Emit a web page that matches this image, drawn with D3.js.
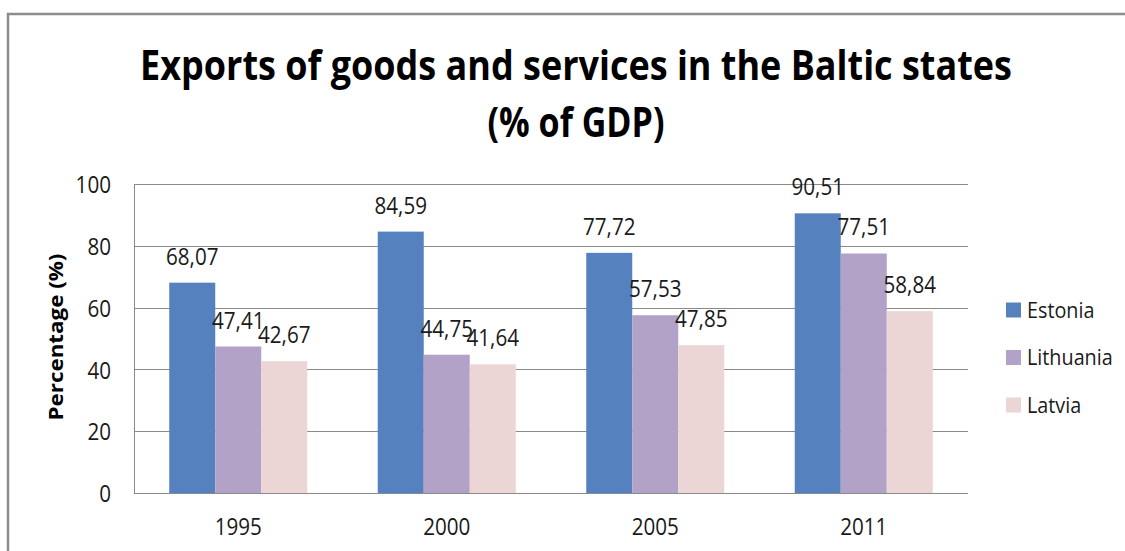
<!DOCTYPE html>
<html>
<head>
<meta charset="utf-8">
<script src="https://cdn.jsdelivr.net/npm/d3@7"></script>
<style>
  html, body { margin: 0; padding: 0; background: #fff; }
  svg { display: block; }
  text { font-family: "Open Sans", "Noto Sans", sans-serif; }
</style>
</head>
<body>
<svg id="chart" width="1125" height="551"></svg>
<script>
const categories = ["1995", "2000", "2005", "2011"];
const seriesNames = ["Estonia", "Lithuania", "Latvia"];
const estonia = [68.07, 84.59, 77.72, 90.51];
const lithuania = [47.41, 44.75, 57.53, 77.51];
const latvia = [42.67, 41.64, 47.85, 58.84];
const yTicks = [0, 20, 40, 60, 80, 100];
const colors = ["#5582be", "#b2a2c8", "#ebd5d5"];
const titleLines = ["Exports of goods and services in the Baltic states", "(% of GDP)"];
const yAxisTitle = "Percentage (%)";

const seriesValues = [estonia, lithuania, latvia];

const svg = d3.select("#chart");
const W = 1125, H = 551;
const plot = { left: 134, right: 968, top: 184, bottom: 493 };

// outer frame (top and left edges visible)
svg.append("path")
  .attr("d", `M8,${H} L8,14 L${W},14`)
  .attr("fill", "none").attr("stroke", "#8c8c8c").attr("stroke-width", 2.5);

// helper: fit a text horizontally to a target width by scaling
function fitWidth(sel, cx, cy, target, rotate) {
  const w = sel.node().getComputedTextLength();
  const s = target / w;
  sel.attr("transform", `translate(${cx},${cy})${rotate ? " rotate(" + rotate + ")" : ""} scale(${s},1)`);
}

// title
const titleSpecs = [{ y: 80, w: 872 }, { y: 137, w: 177 }];
titleLines.forEach((t, i) => {
  const el = svg.append("text").text(t)
    .attr("text-anchor", "middle")
    .attr("font-size", 42).attr("font-weight", "bold").attr("fill", "#000");
  fitWidth(el, 576, titleSpecs[i].y, titleSpecs[i].w);
});

const x = d3.scaleBand().domain(categories)
  .range([plot.left, plot.right]).paddingInner(0.338).paddingOuter(0.169);
const xs = d3.scaleBand().domain(seriesNames).range([0, x.bandwidth()]);
const y = d3.scaleLinear().domain([0, 100]).range([plot.bottom, plot.top]);

// gridlines
svg.append("g").selectAll("line").data(yTicks).join("line")
  .attr("x1", plot.left).attr("x2", plot.right)
  .attr("y1", d => Math.round(y(d)) + 0.5).attr("y2", d => Math.round(y(d)) + 0.5)
  .attr("stroke", "#8a8a8a").attr("stroke-width", 1);

// y axis line
svg.append("line")
  .attr("x1", plot.left + 0.5).attr("x2", plot.left + 0.5)
  .attr("y1", plot.top).attr("y2", plot.bottom)
  .attr("stroke", "#8a8a8a");

// y axis (labels only)
const yAxis = svg.append("g")
  .attr("transform", `translate(${plot.left},0)`)
  .call(d3.axisLeft(y).tickValues(yTicks).tickSize(0).tickPadding(23));
yAxis.select(".domain").remove();
yAxis.selectAll("text")
  .attr("font-size", 24).attr("fill", "#1a1a1a")
  .attr("font-family", "'Open Sans', sans-serif")
  .each(function() {
    const t = d3.select(this);
    const xx = +t.attr("x");
    t.attr("x", null).attr("dy", "0.36em")
     .attr("transform", `translate(${xx},0) scale(0.86,1)`);
  });

// x axis labels
const xAxis = svg.append("g")
  .attr("transform", `translate(0,${plot.bottom})`)
  .call(d3.axisBottom(x).tickSize(0).tickPadding(25));
xAxis.select(".domain").remove();
xAxis.selectAll("text")
  .attr("font-size", 24).attr("fill", "#1a1a1a")
  .attr("font-family", "'Open Sans', sans-serif")
  .attr("dy", "0.71em")
  .attr("transform", "scale(0.86,1)")
  .attr("x", 0);

// bars
const groups = svg.append("g").selectAll("g").data(categories).join("g")
  .attr("transform", d => `translate(${x(d)},0)`);
const barData = (c, i) => seriesNames.map((s, k) => ({ s, k, v: seriesValues[k][i] }));
groups.selectAll("rect").data((c, i) => barData(c, i)).join("rect")
  .attr("x", d => xs(d.s)).attr("width", xs.bandwidth())
  .attr("y", d => y(d.v)).attr("height", d => y(0) - y(d.v))
  .attr("fill", d => colors[d.k]);

// baseline over bars
svg.append("line")
  .attr("x1", plot.left).attr("x2", plot.right)
  .attr("y1", plot.bottom + 0.5).attr("y2", plot.bottom + 0.5)
  .attr("stroke", "#8a8a8a");

// data labels
groups.selectAll("text.lbl").data((c, i) => barData(c, i)).join("text")
  .attr("class", "lbl")
  .attr("transform", d => `translate(${xs(d.s) + xs.bandwidth() / 2},${y(d.v) - 18}) scale(0.86,1)`)
  .attr("text-anchor", "middle")
  .attr("font-size", 24).attr("fill", "#1a1a1a")
  .text(d => d.v.toFixed(2).replace(".", ","));

// y axis title
const yTitle = svg.append("text").text(yAxisTitle)
  .attr("text-anchor", "middle")
  .attr("font-size", 20).attr("font-weight", "bold").attr("fill", "#000");
fitWidth(yTitle, 63, 337, 167, -90);

// legend
const legend = svg.append("g").selectAll("g").data(seriesNames).join("g")
  .attr("transform", (d, i) => `translate(1006,${310 + i * 47.5})`);
legend.append("rect")
  .attr("x", 0).attr("y", -7.5).attr("width", 15).attr("height", 15)
  .attr("fill", (d, i) => colors[i]);
legend.append("text")
  .attr("transform", "translate(21,0) scale(0.9,1)")
  .attr("dy", "0.36em")
  .attr("font-size", 22).attr("fill", "#1a1a1a")
  .text(d => d);
</script>
</body>
</html>
